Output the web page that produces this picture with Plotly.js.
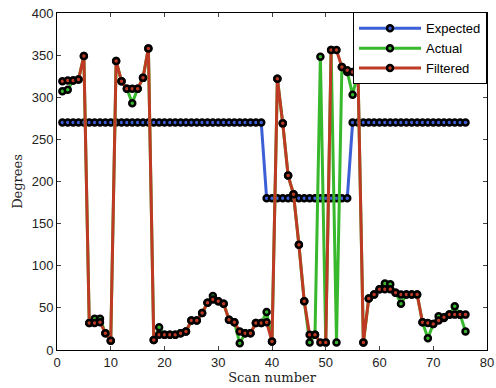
<!DOCTYPE html>
<html>
<head>
<meta charset="utf-8">
<script src="https://cdn.plot.ly/plotly-3.0.1.min.js"></script>
<style>html,body{margin:0;padding:0;background:#fff;}#chart{width:496px;height:388px;}</style>
</head>
<body>
<div id="chart"></div>
<script>
var scans = [];
for (var i = 1; i <= 76; i++) scans.push(i);

var expected = [270,270,270,270,270,270,270,270,270,270,
  270,270,270,270,270,270,270,270,270,270,
  270,270,270,270,270,270,270,270,270,270,
  270,270,270,270,270,270,270,270,180,180,
  180,180,180,180,180,180,180,180,180,180,
  180,180,180,180,270,270,270,270,270,270,
  270,270,270,270,270,270,270,270,270,270,
  270,270,270,270,270,270];

var actual = [307,309,320,321,349,32,37,37,20,11,
  343,319,310,293,310,323,358,12,27,18,
  18,18,20,22,35,35,44,56,64,58,
  55,36,33,8,20,20,32,32,45,10,
  322,269,207,185,125,58,9,18,348,9,
  356,9,336,330,303,330,9,61,66,72,
  79,78,68,55,66,66,66,33,14,31,
  40,38,42,52,42,22];

var filtered = [319,320,320,321,349,32,32,33,20,11,
  343,319,310,310,310,323,358,12,18,18,
  18,18,20,22,35,35,44,56,60,58,
  55,36,33,22,20,20,32,32,33,10,
  322,269,207,185,125,58,18,18,9,9,
  356,356,336,332,330,330,9,61,66,72,
  72,72,68,66,66,66,66,33,32,31,
  35,39,42,42,42,42];

var names = ["Expected", "Actual", "Filtered"];
var colors = ["#3d5fd6", "#38b82c", "#be3a24"];
var series = [expected, actual, filtered];

var traces = series.map(function (ys, k) {
  return {
    x: scans, y: ys, name: names[k], type: "scatter", mode: "lines+markers",
    line: {color: colors[k], width: 3},
    marker: {size: 6, color: colors[k], line: {color: "#000", width: 2.5}}
  };
});

var layout = {
  width: 496, height: 388,
  margin: {l: 57, r: 9, t: 13, b: 38},
  paper_bgcolor: "#fff", plot_bgcolor: "#fff",
  showlegend: true,
  legend: {x: 1, xanchor: "right", y: 1.002, yanchor: "top",
    bgcolor: "#fff", bordercolor: "#000", borderwidth: 1,
    font: {family: "Liberation Sans, Arial, sans-serif", size: 13, color: "#000"},
    tracegroupgap: 0, itemwidth: 62},
  xaxis: {range: [0, 80], dtick: 10, tick0: 0, ticks: "inside", ticklen: 4,
    showline: true, linecolor: "#000", linewidth: 1, mirror: "ticks", showgrid: false, zeroline: false,
    tickfont: {family: "Liberation Sans, Arial, sans-serif", size: 13, color: "#222"},
    title: {text: "Scan number", standoff: 4, font: {family: "DejaVu Serif, Liberation Serif, serif", size: 13, color: "#222"}}},
  yaxis: {range: [0, 400], dtick: 50, tick0: 0, ticks: "inside", ticklen: 4,
    showline: true, linecolor: "#000", linewidth: 1, mirror: "ticks", showgrid: false, zeroline: false,
    tickfont: {family: "Liberation Sans, Arial, sans-serif", size: 13, color: "#222"},
    title: {text: "Degrees", standoff: 6, font: {family: "DejaVu Serif, Liberation Serif, serif", size: 13, color: "#222"}}}
};

Plotly.newPlot("chart", traces, layout, {displayModeBar: false, staticPlot: true});
</script>
</body>
</html>
